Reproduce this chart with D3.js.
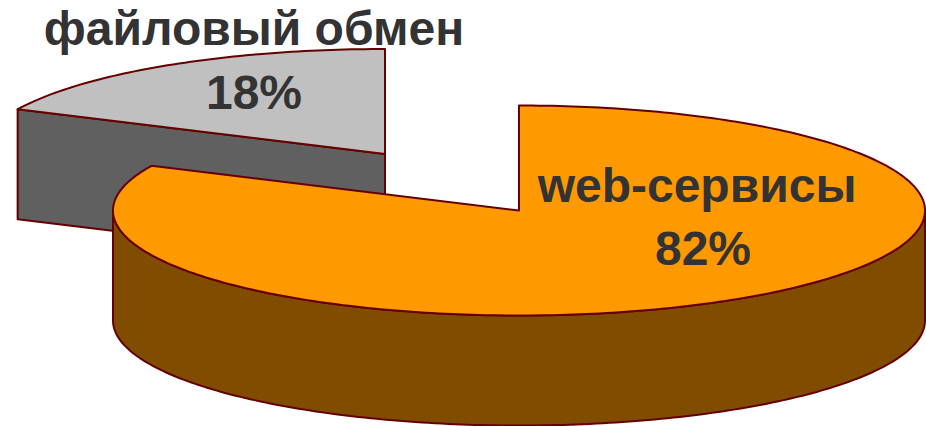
<!DOCTYPE html>
<html>
<head>
<meta charset="utf-8">
<script src="https://cdnjs.cloudflare.com/ajax/libs/d3/7.8.5/d3.min.js"></script>
<style>
  html, body { margin: 0; padding: 0; background: #fff; overflow: hidden; }
  text { font-family: "Liberation Sans", Arial, sans-serif; font-weight: bold; fill: #333; text-anchor: middle; }
</style>
</head>
<body>
<div id="chart"></div>
<script>
// Data
const categories = ['web-сервисы', 'файловый обмен'];
const values = [82, 18];
const topColors = ['#ff9900', '#c0c0c0'];
const sideColors = ['#804d00', '#606060'];

// Set the dimensions of the page
const width = 926, height = 426;

// Geometry of the tilted pie
const rx = 406, ry = 105, depth = 110;
// the small slice is pulled out towards the upper left
const centers = [{ x: 519, y: 210.5 }, { x: 385, y: 154 }];
const outline = '#660000';

const svg = d3.select('#chart').append('svg')
    .attr('width', width)
    .attr('height', height);

const slices = d3.pie().sort(null)(values);

// Flatten a pie angle onto the ellipse
function project(c, a, dy = 0) {
    return [c.x + rx * Math.sin(a), c.y - ry * Math.cos(a) + dy];
}

function arcPoints(c, a0, a1, dy = 0) {
    const n = Math.max(2, Math.ceil(Math.abs(a1 - a0) * 60));
    return d3.range(n + 1).map(i => project(c, a0 + (a1 - a0) * i / n, dy));
}

const line = d3.line();

function drawSlice(i) {
    const d = slices[i], c = centers[i];
    const g = svg.append('g');
    const shape = (pts, fill) => g.append('path')
        .attr('d', line(pts) + 'Z')
        .attr('fill', fill)
        .attr('stroke', outline)
        .attr('stroke-width', 2)
        .attr('stroke-linejoin', 'round');

    // cut face at the end angle, only the one turned to the viewer
    if (i === 1) {
        const p = project(c, d.startAngle);
        shape([[c.x, c.y], p, [p[0], p[1] + depth], [c.x, c.y + depth]], sideColors[i]);
    }

    // rim: the part of the slice on the front half of the ellipse
    const a0 = Math.max(d.startAngle, Math.PI / 2);
    const a1 = Math.min(d.endAngle, Math.PI * 3 / 2);
    if (a0 < a1) {
        shape(arcPoints(c, a0, a1).concat(arcPoints(c, a1, a0, depth)), sideColors[i]);
    }

    // top face
    shape([[c.x, c.y]].concat(arcPoints(c, d.startAngle, d.endAngle)), topColors[i]);
}

// the pulled out slice sits behind the big one
drawSlice(1);
drawSlice(0);

// Labels
const labels = [
    { text: categories[1], x: 254, y: 45 },
    { text: values[1] + '%', x: 254, y: 109 },
    { text: categories[0], x: 697, y: 202 },
    { text: values[0] + '%', x: 703, y: 265 }
];

svg.selectAll('text.label')
    .data(labels)
    .enter().append('text')
    .attr('class', 'label')
    .attr('x', d => d.x)
    .attr('y', d => d.y)
    .attr('font-size', 48)
    .text(d => d.text);
</script>
</body>
</html>
